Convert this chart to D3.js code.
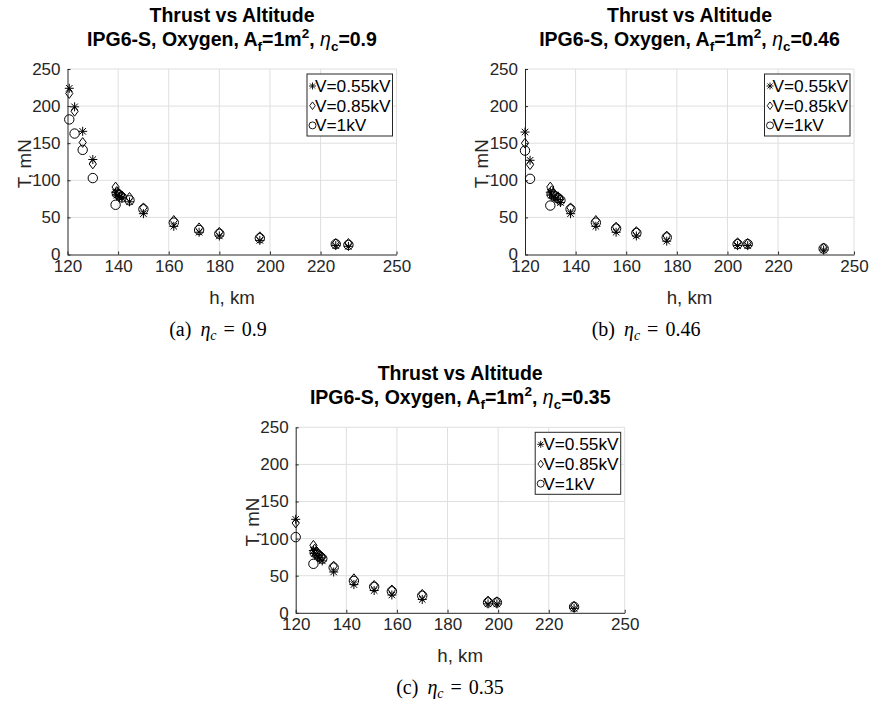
<!DOCTYPE html>
<html>
<head>
<meta charset="utf-8">
<script src="https://cdn.jsdelivr.net/npm/d3@7"></script>
<style>
  body { margin: 0; background: #fff; }
  svg { display: block; }
  text { font-family: "Liberation Sans", Arial, Helvetica, sans-serif; }
  text.caption { font-family: "Liberation Serif", "Times New Roman", serif; }
</style>
</head>
<body>
<svg id="chart" width="872" height="707"></svg>
<script>
// ---- data -------------------------------------------------------------
const seriesNames = ["V=0.55kV", "V=0.85kV", "V=1kV"];
const xTickValues = [120, 140, 160, 180, 200, 220, 250];
const yTickValues = [0, 50, 100, 150, 200, 250];
const efficiencies = ["0.9", "0.46", "0.35"];
const captionLetters = ["a", "b", "c"];

// eta_c = 0.9
const altitudeA = [120.7, 122.8, 126, 130, 139, 139.5, 140.5, 141.5, 144.5, 150, 162, 172, 180, 196, 226, 231];
const thrustA055 = [224, 199, 166, 128, 84, 80, 78, 76, 71, 55, 38, 30, 25, 19, 12, 11];
const thrustA085 = [217, 193, 151, 122, 91, 85, 82, 79, 77, 63, 46, 36, 30, 24, 15, 15];
const thrustA100 = [182, 163, 141, 103, 67, 82, 80, 77, 73, 61, 43, 33, 28, 22, 14, 13];

// eta_c = 0.46
const altitudeB = [120, 122, 130, 130.5, 131.5, 133, 134, 138, 148, 156, 164, 176, 204, 208, 238];
const thrustB055 = [165, 127, 84, 80, 77, 74, 70, 55, 38, 30, 25, 18, 12, 12, 6];
const thrustB085 = [150, 121, 91, 86, 82, 78, 75, 63, 46, 37, 31, 25, 16, 15, 9];
const thrustB100 = [140, 102, 66, 81, 79, 76, 73, 61, 43, 35, 29, 23, 14, 14, 8];

// eta_c = 0.35
const altitudeC = [120, 127, 127.5, 128.5, 129.5, 130.5, 135, 143, 151, 158, 170, 196, 199.5, 230];
const thrustC055 = [126, 84, 80, 77, 74, 70, 55, 38, 30, 24, 18, 12, 12, 6];
const thrustC085 = [121, 91, 86, 82, 78, 75, 63, 46, 37, 31, 25, 16, 15, 9];
const thrustC100 = [102, 66, 81, 79, 76, 73, 61, 43, 35, 29, 23, 14, 14, 8];

// ---- layout -----------------------------------------------------------
const panels = [
  { left: 67.5, top: 69, alt: altitudeA, thrust: [thrustA055, thrustA085, thrustA100], capX: 218 },
  { left: 525, top: 69, alt: altitudeB, thrust: [thrustB055, thrustB085, thrustB100], capX: 646 },
  { left: 295.7, top: 427.3, alt: altitudeC, thrust: [thrustC055, thrustC085, thrustC100], capX: 450 }
];
const axW = 329, axH = 185.5;
const axisColor = "#262626";
const gridColor = "#dfdfdf";
const markerKinds = ["star", "diamond", "circle"];

function markerPath(kind, s) {
  if (kind === "circle") {
    return `M${-s},0A${s},${s} 0 1,0 ${s},0A${s},${s} 0 1,0 ${-s},0Z`;
  }
  if (kind === "diamond") {
    const w = s * 0.8, h = s * 1.08;
    return `M0,${-h}L${w},0L0,${h}L${-w},0Z`;
  }
  const a = s * 0.72;
  return `M${-s},0L${s},0M0,${-s}L0,${s}M${-a},${-a}L${a},${a}M${-a},${a}L${a},${-a}`;
}

const svg = d3.select("#chart");

panels.forEach((p, pi) => {
  const g = svg.append("g").attr("transform", `translate(${p.left},${p.top})`);
  const x = d3.scaleLinear().domain([120, 250]).range([0, axW]);
  const y = d3.scaleLinear().domain([0, 250]).range([axH, 0]);

  // grid
  g.append("g").selectAll("line").data(xTickValues.slice(1)).join("line")
    .attr("x1", d => x(d)).attr("x2", d => x(d)).attr("y1", 0).attr("y2", axH)
    .attr("stroke", gridColor).attr("stroke-width", 1);
  g.append("g").selectAll("line").data(yTickValues.slice(1)).join("line")
    .attr("x1", 0).attr("x2", axW).attr("y1", d => y(d)).attr("y2", d => y(d))
    .attr("stroke", gridColor).attr("stroke-width", 1);

  // axes
  const xAxis = d3.axisBottom(x).tickValues(xTickValues).tickSizeInner(-3).tickSizeOuter(0).tickPadding(5);
  const yAxis = d3.axisLeft(y).tickValues(yTickValues).tickSizeInner(-3).tickSizeOuter(0).tickPadding(7);
  const gx = g.append("g").attr("transform", `translate(0,${axH})`).call(xAxis);
  const gy = g.append("g").call(yAxis);
  [gx, gy].forEach(a => {
    a.attr("font-family", null);
    a.select(".domain").attr("stroke", axisColor).attr("stroke-width", 1);
    a.selectAll(".tick line").attr("stroke", axisColor);
    a.selectAll(".tick text").attr("fill", axisColor).attr("font-size", 17);
  });
  gx.selectAll(".tick text").attr("dy", "0.72em");

  // axis labels
  g.append("text").attr("x", axW / 2).attr("y", axH + 49).attr("text-anchor", "middle")
    .attr("font-size", 18.7).attr("fill", axisColor).text("h, km");
  g.append("text").attr("transform", `translate(-37,${axH / 2 + 2}) rotate(-90)`)
    .attr("text-anchor", "middle").attr("font-size", 18.7).attr("fill", axisColor).text("T, mN");

  // titles
  g.append("text").attr("x", axW / 2).attr("y", -47).attr("text-anchor", "middle")
    .attr("font-size", 19.5).attr("font-weight", "bold").attr("fill", "#000").text("Thrust vs Altitude");
  const t2 = g.append("text").attr("x", axW / 2).attr("y", -23).attr("text-anchor", "middle")
    .attr("font-size", 19.5).attr("font-weight", "bold").attr("fill", "#000");
  t2.append("tspan").text("IPG6-S, Oxygen, A");
  t2.append("tspan").attr("dy", 5).attr("font-size", 13.5).text("f");
  t2.append("tspan").attr("dy", -5).text("=1m");
  t2.append("tspan").attr("dy", -8).attr("font-size", 13.5).text("2");
  t2.append("tspan").attr("dy", 8).text(", ");
  t2.append("tspan").attr("font-weight", "normal").attr("font-style", "italic").text("η");
  t2.append("tspan").attr("dy", 5).attr("font-size", 13.5).text("c");
  t2.append("tspan").attr("dy", -5).text("=" + efficiencies[pi]);

  // scatter markers
  p.thrust.forEach((series, si) => {
    g.append("g").selectAll("path").data(series).join("path")
      .attr("transform", (d, i) => `translate(${x(p.alt[i])},${y(d)})`)
      .attr("d", markerPath(markerKinds[si], si === 2 ? 4.7 : 4.5))
      .attr("fill", "none").attr("stroke", "#000").attr("stroke-width", 1);
  });

  // legend
  const lgW = 85.5, lgH = 62;
  const lg = g.append("g").attr("transform", `translate(${axW - 4 - lgW},5)`);
  lg.append("rect").attr("width", lgW).attr("height", lgH)
    .attr("fill", "#fff").attr("stroke", axisColor).attr("stroke-width", 1);
  seriesNames.forEach((name, si) => {
    const cy = 12 + si * 19.7;
    lg.append("path").attr("transform", `translate(5.5,${cy})`)
      .attr("d", markerPath(markerKinds[si], 3.5))
      .attr("fill", "none").attr("stroke", "#000").attr("stroke-width", 0.9);
    lg.append("text").attr("x", 8).attr("y", cy + 6).attr("font-size", 17.3)
      .attr("fill", "#000").text(name);
  });

  // sub-figure caption, with math-style spacing around the equals sign
  const cap = svg.append("text").attr("class", "caption")
    .attr("x", p.capX).attr("y", p.top + axH + 81).attr("text-anchor", "middle")
    .attr("font-size", 20).attr("fill", "#000");
  cap.append("tspan").text(`(${captionLetters[pi]})`);
  cap.append("tspan").attr("dx", 9).attr("font-style", "italic").text("η");
  cap.append("tspan").attr("dy", 4).attr("font-size", 14).attr("font-style", "italic").text("c");
  cap.append("tspan").attr("dx", 7).attr("dy", -4).text("=");
  cap.append("tspan").attr("dx", 7).text(efficiencies[pi]);
});
</script>
</body>
</html>
